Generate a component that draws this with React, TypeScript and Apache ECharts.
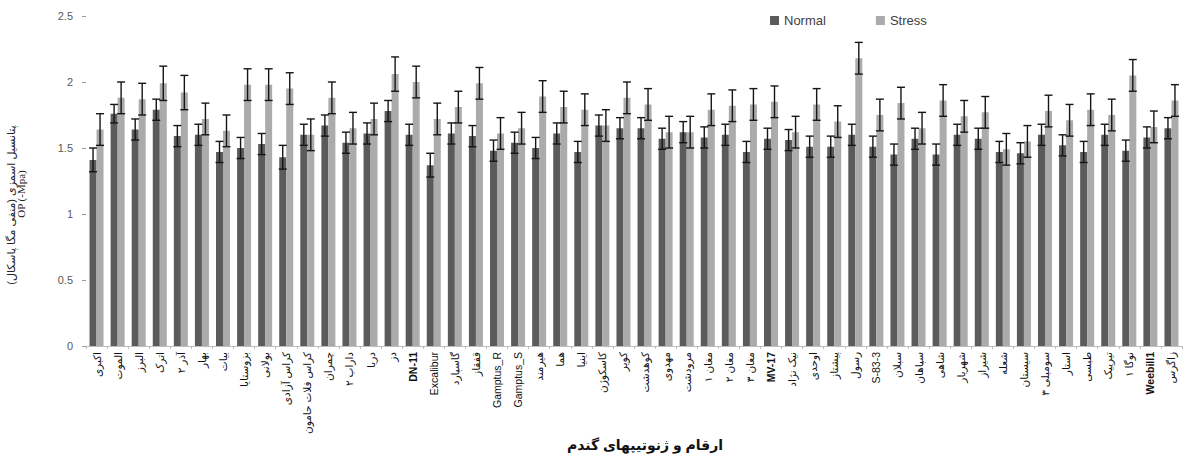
import React, { useEffect, useRef } from "react";
import * as echarts from "echarts";

const categories = [
  "اکبری", "الموت", "البرز", "اترک", "آذر ۲", "بهار", "بیات", "بزوستایا", "بولانی", "کراس آزادی",
  "کراس فلات حامون", "چمران", "داراب ۲", "دریا", "دز", "DN-11", "Excalibur", "گاسپارد", "قفقاز", "Gamptus_R",
  "Gamptus_S", "هیرمند", "هما", "اینیا", "کاسکوژن", "کویر", "کوهدشت", "مهدوی", "مرودشت", "مغان ۱",
  "مغان ۲", "مغان ۳", "MV-17", "نیک نژاد", "اوحدی", "پیشتاز", "رسول", "S-83-3", "سبلان", "سپاهان",
  "شاهی", "شهریار", "شیراز", "شعله", "سیستان", "سومبلی ۳", "استار", "طبسی", "تیرپیک", "نوگا ۱",
  "Weebill1", "زاگرس",
];

const normalValues = [
  1.41, 1.76, 1.64, 1.79, 1.59, 1.60, 1.47, 1.50, 1.53, 1.43,
  1.60, 1.67, 1.54, 1.61, 1.78, 1.60, 1.37, 1.61, 1.59, 1.48,
  1.54, 1.50, 1.61, 1.47, 1.67, 1.65, 1.65, 1.57, 1.62, 1.58,
  1.60, 1.47, 1.57, 1.56, 1.51, 1.51, 1.60, 1.51, 1.45, 1.57,
  1.45, 1.60, 1.57, 1.47, 1.46, 1.60, 1.52, 1.47, 1.60, 1.48,
  1.58, 1.65,
];

const stressValues = [
  1.64, 1.88, 1.87, 1.99, 1.92, 1.72, 1.63, 1.98, 1.98, 1.95,
  1.60, 1.88, 1.65, 1.72, 2.06, 2.00, 1.72, 1.81, 1.99, 1.61,
  1.65, 1.89, 1.81, 1.79, 1.67, 1.88, 1.83, 1.62, 1.62, 1.79,
  1.82, 1.83, 1.85, 1.62, 1.83, 1.70, 2.18, 1.75, 1.84, 1.65,
  1.86, 1.74, 1.77, 1.49, 1.55, 1.78, 1.71, 1.79, 1.75, 2.05,
  1.66, 1.86,
];

const normalErr = [
  0.09, 0.07, 0.08, 0.08, 0.08, 0.08, 0.08, 0.08, 0.08, 0.09,
  0.08, 0.08, 0.08, 0.08, 0.08, 0.08, 0.09, 0.08, 0.08, 0.08,
  0.08, 0.08, 0.08, 0.08, 0.08, 0.08, 0.08, 0.08, 0.08, 0.08,
  0.08, 0.08, 0.08, 0.08, 0.08, 0.08, 0.08, 0.08, 0.08, 0.08,
  0.08, 0.08, 0.08, 0.08, 0.08, 0.08, 0.08, 0.08, 0.08, 0.08,
  0.08, 0.08,
];

const stressErr = [
  0.12, 0.12, 0.12, 0.13, 0.13, 0.12, 0.12, 0.12, 0.12, 0.12,
  0.12, 0.12, 0.12, 0.12, 0.13, 0.12, 0.12, 0.12, 0.12, 0.12,
  0.12, 0.12, 0.12, 0.12, 0.12, 0.12, 0.12, 0.12, 0.12, 0.12,
  0.12, 0.12, 0.12, 0.12, 0.12, 0.12, 0.12, 0.12, 0.12, 0.12,
  0.12, 0.12, 0.12, 0.12, 0.12, 0.12, 0.12, 0.12, 0.12, 0.12,
  0.12, 0.12,
];

const boldLabels = ["DN-11", "MV-17", "Weebill1"];
const seriesNames = ["Normal", "Stress"];
const yTitleLines = ["پتانسیل اسمزی (منفی مگا پاسکال)", "OP (-Mpa)"];
const xTitle = "ارقام و ژنوتیپهای گندم";

const FONT = '"Liberation Sans", Arial, "DejaVu Sans", sans-serif';
const NORMAL_COLOR = "#5b5b5b";
const STRESS_COLOR = "#ababab";
const BAR_W = 7;

function errorSeries(name: string, values: number[], errs: number[], offset: number) {
  return {
    type: "custom",
    name: name + " err",
    silent: true,
    z: 5,
    data: values.map((v, i) => [i, v - errs[i], v + errs[i]]),
    encode: { x: 0, y: [1, 2] },
    renderItem: (_params: any, api: any) => {
      const i = api.value(0);
      const lo = api.coord([i, api.value(1)]);
      const hi = api.coord([i, api.value(2)]);
      const x = lo[0] + offset;
      const cap = 4;
      const style = { stroke: "#151515", lineWidth: 1.4 };
      return {
        type: "group",
        children: [
          { type: "line", shape: { x1: x, y1: hi[1], x2: x, y2: lo[1] }, style },
          { type: "line", shape: { x1: x - cap, y1: hi[1], x2: x + cap, y2: hi[1] }, style },
          { type: "line", shape: { x1: x - cap, y1: lo[1], x2: x + cap, y2: lo[1] }, style },
        ],
      };
    },
  };
}

export default function App() {
  const ref = useRef<HTMLDivElement>(null);

  useEffect(() => {
    if (!ref.current) return;
    const chart = echarts.init(ref.current, undefined, { renderer: "svg" });
    const option: any = {
      animation: false,
      backgroundColor: "#ffffff",
      textStyle: { fontFamily: FONT },
      legend: {
        data: seriesNames,
        left: 765,
        top: 9,
        itemWidth: 9,
        itemHeight: 9,
        itemGap: 50,
        icon: "rect",
        textStyle: { fontSize: 13, color: "#404040", fontFamily: FONT },
      },
      grid: { left: 86, right: 7, top: 16, bottom: 111, containLabel: false },
      xAxis: {
        type: "category",
        data: categories,
        axisLine: { show: true, lineStyle: { color: "#bdbdbd", width: 1 } },
        axisTick: { show: true, length: 3, lineStyle: { color: "#bdbdbd" } },
        axisLabel: {
          interval: 0,
          rotate: 90,
          margin: 6,
          fontSize: 10.5,
          color: "#111",
          fontFamily: FONT,
          formatter: (v: string) => (boldLabels.includes(v) ? "{b|" + v + "}" : v),
          rich: { b: { fontWeight: "bold", fontSize: 10.5, color: "#111", fontFamily: FONT } },
        },
      },
      yAxis: {
        type: "value",
        min: 0,
        max: 2.5,
        interval: 0.5,
        axisLine: { show: false },
        axisTick: { show: true, length: 4, lineStyle: { color: "#9a9a9a" } },
        splitLine: { show: false },
        axisLabel: { fontSize: 11, color: "#595959", margin: 13, fontFamily: FONT },
      },
      series: [
        {
          name: seriesNames[0],
          type: "bar",
          data: normalValues,
          barWidth: BAR_W,
          barGap: "0%",
          itemStyle: { color: NORMAL_COLOR },
        },
        {
          name: seriesNames[1],
          type: "bar",
          data: stressValues,
          barWidth: BAR_W,
          barGap: "0%",
          itemStyle: { color: STRESS_COLOR },
        },
        errorSeries("Normal", normalValues, normalErr, -BAR_W / 2),
        errorSeries("Stress", stressValues, stressErr, BAR_W / 2),
      ],
      graphic: [
        {
          type: "text",
          x: 11,
          y: 205,
          rotation: Math.PI / 2,
          style: {
            text: yTitleLines[0],
            fontSize: 11,
            fill: "#222",
            align: "center",
            verticalAlign: "middle",
            fontFamily: FONT,
          },
        },
        {
          type: "text",
          x: 21,
          y: 194,
          rotation: Math.PI / 2,
          style: {
            text: yTitleLines[1],
            fontSize: 11,
            fill: "#222",
            align: "center",
            verticalAlign: "middle",
            fontFamily: '"Liberation Serif", serif',
          },
        },
        {
          type: "text",
          x: 645,
          y: 445,
          style: {
            text: xTitle,
            fontSize: 14,
            fontWeight: "bold",
            fill: "#111",
            align: "center",
            verticalAlign: "middle",
            fontFamily: FONT,
          },
        },
      ],
    };
    chart.setOption(option);
    return () => chart.dispose();
  }, []);

  return (
    <div
      ref={ref}
      style={{ position: "absolute", left: 0, top: 0, width: 1189, height: 457, background: "#fff" }}
    />
  );
}
